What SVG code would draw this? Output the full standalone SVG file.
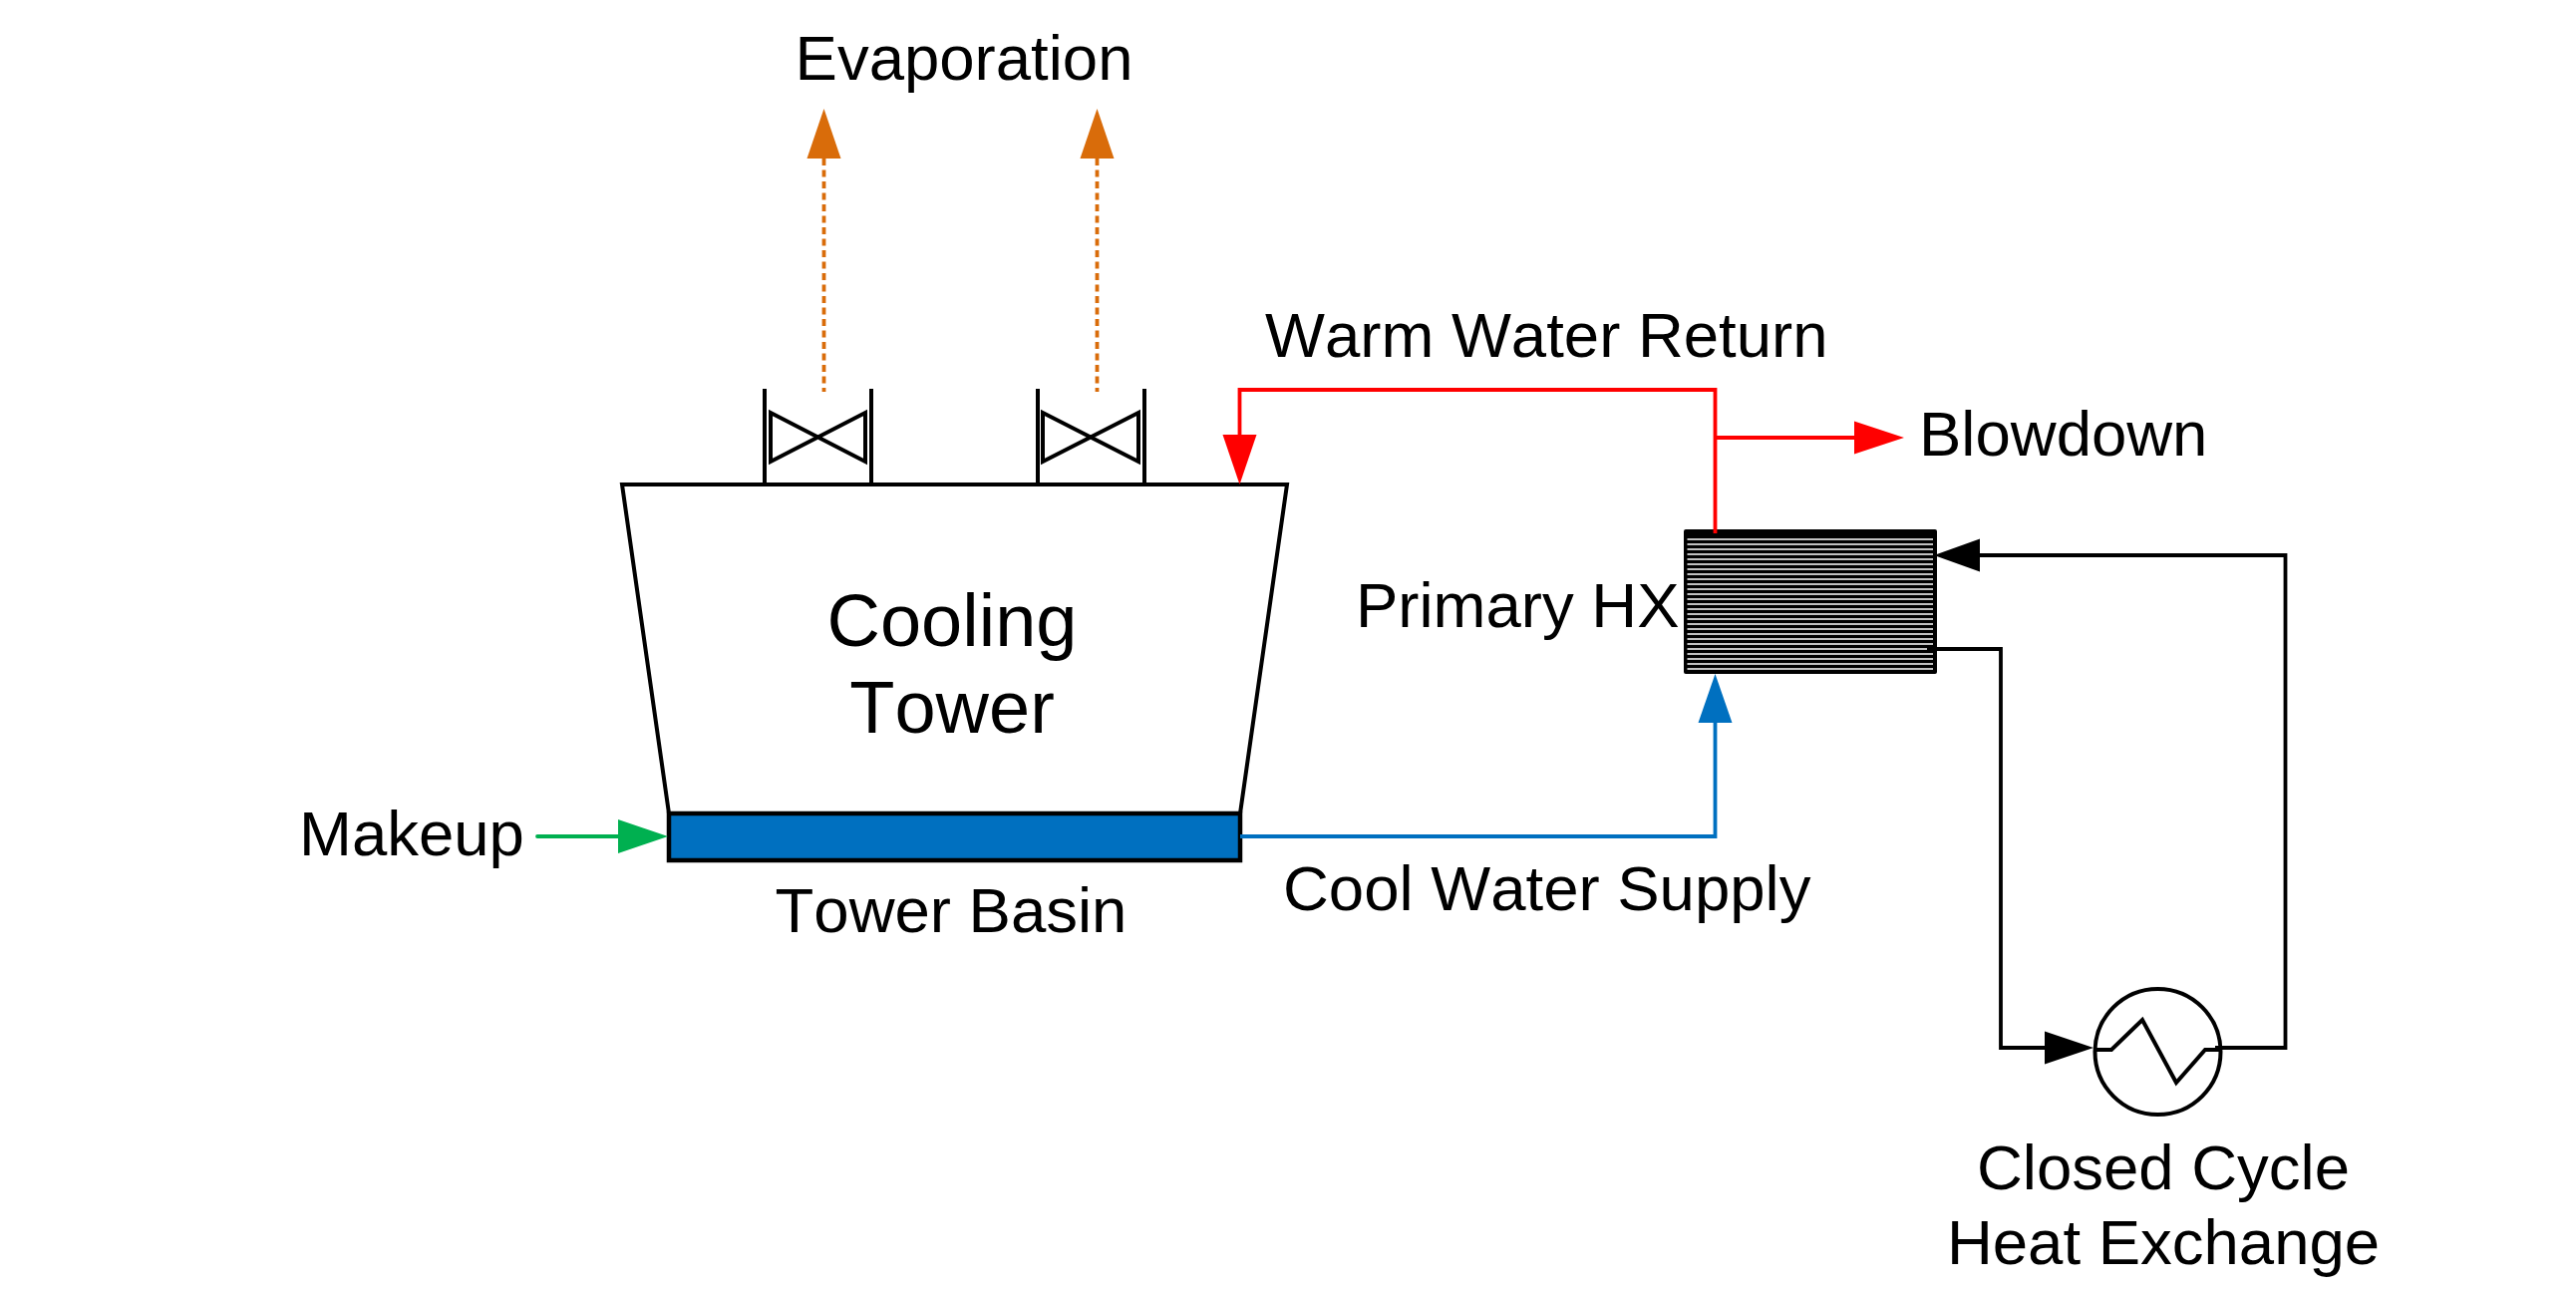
<svg xmlns="http://www.w3.org/2000/svg" width="2584" height="1294" viewBox="0 0 2584 1294">
<style>
text{font-family:"Liberation Sans",Arial,sans-serif;font-size:63.5px;fill:#000;font-kerning:none}
.big{font-size:74px}
.m{text-anchor:middle}
.sym{fill:none;stroke:#000;stroke-width:4;stroke-linejoin:miter}
.thin{fill:none;stroke:#000;stroke-width:4}
.c{fill:none;stroke-width:3.8;stroke-linejoin:miter}
.stripe{stroke:#fff;stroke-width:1.7;fill:none}
</style>
<rect width="2584" height="1294" fill="#fff"/>
<g id="cooling-tower">
<path class="thin" d="M671 816L624 486H1291L1244 816"/>
<text class="big m" x="955" y="648">Cooling</text>
<text class="big m" x="955" y="735">Tower</text>
</g>
<g id="tower-basin">
<rect x="671" y="816" width="573" height="47" fill="#0070C0" stroke="#000" stroke-width="4.5"/>
<text class="m" x="954" y="934.500">Tower Basin</text>
</g>
<g id="valve-1">
<path class="thin" d="M767 390V486M874 390V486"/>
<path class="sym" d="M773 414L868 463V414L773 463Z"/>
</g>
<g id="valve-2">
<path class="thin" d="M1041 390V486M1148 390V486"/>
<path class="sym" d="M1046 414L1142 463V414L1046 463Z"/>
</g>
<g id="primary-hx">
<rect x="1689" y="531" width="254" height="145" rx="2" fill="#000"/>
<path class="stripe" d="M1692.500 541H1939M1692.500 546H1939M1692.500 551H1939M1692.500 556H1939M1692.500 561H1939M1692.500 566H1939M1692.500 571H1939M1692.500 576H1939M1692.500 581H1939M1692.500 586H1939M1692.500 591H1939M1692.500 596H1939M1692.500 601H1939M1692.500 606H1939M1692.500 611H1939M1692.500 616H1939M1692.500 621H1939M1692.500 626H1939M1692.500 631H1939M1692.500 636H1939M1692.500 641H1939M1692.500 646H1939M1692.500 651H1939M1692.500 656H1939M1692.500 661H1939M1692.500 666H1939M1692.500 671H1939"/>
<text x="1360" y="628.500">Primary HX</text>
</g>
<g id="closed-cycle-hx">
<circle class="thin" cx="2164.5" cy="1055" r="63"/>
<path class="thin" d="M2102 1053H2118L2149 1023L2183 1086L2212 1053H2227"/>
<text class="m" x="2170" y="1192.500">Closed Cycle</text>
<text class="m" x="2170" y="1267.500">Heat Exchange</text>
</g>
<g id="connectors">
<path class="c" d="M826.500 159V393" stroke="#D96C0A" stroke-dasharray="7 4.5"/>
<path class="c" d="M1100.500 159V393" stroke="#D96C0A" stroke-dasharray="7 4.5"/>
<polygon points="826.5,109 809.5,159 843.5,159" fill="#D96C0A"/>
<polygon points="1100.5,109 1083.5,159 1117.5,159" fill="#D96C0A"/>
<path class="c" d="M1720.500 535V391H1243.500V436" stroke="#f00"/>
<polygon points="1243.5,486 1226.5,436 1260.5,436" fill="#f00"/>
<path class="c" d="M1720.500 439H1860" stroke="#f00"/>
<polygon points="1910,439 1860,422.500 1860,455.500" fill="#f00"/>
<path class="c" d="M539 839H620" stroke="#00B050" stroke-linecap="round"/>
<polygon points="670,839 620,822 620,856" fill="#00B050"/>
<path class="c" d="M1244 839H1720.500V725" stroke="#0070C0"/>
<polygon points="1720.5,676 1703.5,725 1737.5,725" fill="#0070C0"/>
<path class="c" d="M1986 557H2292.500V1051H2222" stroke="#000"/>
<polygon points="1940,557 1986,540.500 1986,573.500" fill="#000"/>
<path class="c" d="M1933 651H2007V1051H2051" stroke="#000"/>
<polygon points="2100,1051 2051,1034.500 2051,1067.500" fill="#000"/>
</g>
<g id="labels">
<text class="m" x="967" y="80">Evaporation</text>
<text x="1269" y="357.500">Warm Water Return</text>
<text x="1925" y="457">Blowdown</text>
<text x="300" y="858">Makeup</text>
<text x="1287" y="912.500">Cool Water Supply</text>
</g>
</svg>
